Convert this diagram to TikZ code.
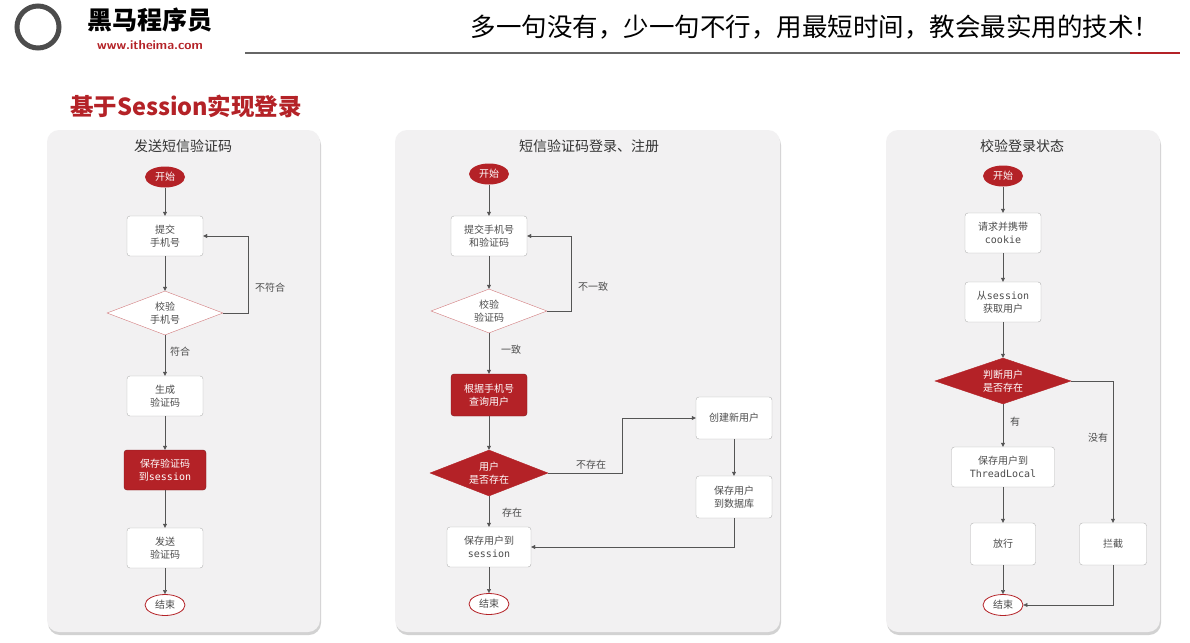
\documentclass[tikz,border=0pt]{standalone}
\usepackage{fontspec}
\setmainfont{Noto Sans CJK SC}
\setmonofont{DejaVu Sans Mono}
\usetikzlibrary{shapes.geometric,arrows.meta,shadows}
\definecolor{rd}{HTML}{B42227}
\definecolor{pn}{HTML}{F2F1F2}
\definecolor{ln}{HTML}{555555}
\tikzset{
 panel/.style={draw=none,fill=pn,rounded corners=12pt,drop shadow={shadow xshift=1pt,shadow yshift=-3pt,opacity=.35}},
 ptitle/.style={font=\fontsize{14}{16}\selectfont,text=black!80},
 wbox/.style={draw=black!30,fill=white,rounded corners=3pt,minimum height=40pt,align=center,font=\fontsize{10}{13}\selectfont,text=black!70,inner sep=2pt},
 rbox/.style={wbox,draw=rd!70!black,fill=rd,text=white},
 term/.style={ellipse,minimum width=40pt,minimum height=21pt,inner sep=0pt,font=\fontsize{10}{11}\selectfont},
 starts/.style={term,fill=rd,text=white},
 ends/.style={term,draw=rd,thick,fill=white,text=black!70},
 wdia/.style={diamond,aspect=2.6,draw=rd!60,fill=white,align=center,font=\fontsize{10}{13}\selectfont,text=black!70,inner sep=0pt},
 rdia/.style={wdia,draw=rd,fill=rd,text=white},
 arr/.style={draw=ln,-{Triangle[length=4pt,width=4pt]}},
 lab/.style={font=\fontsize{10}{11}\selectfont,text=black!70}
}
\begin{document}
\begin{tikzpicture}[x=1pt,y=-1pt]
\useasboundingbox (0,0) rectangle (1190,642);
\fill[white] (0,0) rectangle (1190,642);
% header
\draw[line width=5pt,black!70] (38,27) circle (21);
\node (logo) at (150,20) {\fontsize{25}{26}\selectfont\bfseries 黑马程序员};
\node[text=rd] (url) at (150,45) {\fontsize{13}{14}\selectfont\sffamily\bfseries www.itheima.com};
\node (slogan) at (815,27) {\fontsize{25.5}{28}\selectfont 多一句没有，少一句不行，用最短时间，教会最实用的技术！};
\draw[black!60,line width=1.2pt] (245,53) -- (1180,53);
\draw[rd,line width=1.2pt] (1130,53) -- (1180,53);
\node[text=rd] (title) at (186,106) {\fontsize{23.5}{26}\selectfont\bfseries 基于Session实现登录};
% panels
\path[panel] (47,130) rectangle (320,632);
\path[panel] (395,130) rectangle (780,632);
\path[panel] (886,130) rectangle (1160,632);
\node[ptitle] (t1) at (183,146) {发送短信验证码};
\node[ptitle] (t2) at (589,146) {短信验证码登录、注册};
\node[ptitle] (t3) at (1022,146) {校验登录状态};
% panel 1
\node[starts] (s1) at (165,177) {开始};
\node[wbox,minimum width=76pt] (a1) at (165,236) {提交\\手机号};
\node[wdia,minimum width=116pt,minimum height=44pt] (d1) at (165,313) {校验\\手机号};
\node[wbox,minimum width=76pt] (a2) at (165,396) {生成\\验证码};
\node[rbox,minimum width=82pt] (a3) at (165,470) {保存验证码\\到{\ttfamily session}};
\node[wbox,minimum width=76pt] (a4) at (165,548) {发送\\验证码};
\node[ends] (e1) at (165,605) {结束};
\draw[arr] (s1) -- (a1);
\draw[arr] (a1) -- (d1);
\draw[arr] (d1.east) -- (248,313) -- (248,236) -- (a1.east);
\node[lab] (l1) at (270,288) {不符合};
\draw[arr] (d1) -- (a2);
\node[lab] (l2) at (180,352) {符合};
\draw[arr] (a2) -- (a3);
\draw[arr] (a3) -- (a4);
\draw[arr] (a4) -- (e1);
% panel 2
\node[starts] (s2) at (489,174) {开始};
\node[wbox,minimum width=76pt] (b1) at (489,236) {提交手机号\\和验证码};
\node[wdia,minimum width=116pt,minimum height=44pt] (d2) at (489,311) {校验\\验证码};
\node[rbox,minimum width=76pt,minimum height=42pt] (b2) at (489,395) {根据手机号\\查询用户};
\node[rdia,minimum width=118pt,minimum height=46pt] (d3) at (489,473) {用户\\是否存在};
\node[wbox,minimum width=76pt,minimum height=42pt] (b3) at (734,418) {创建新用户};
\node[wbox,minimum width=76pt,minimum height=42pt] (b4) at (734,497) {保存用户\\到数据库};
\node[wbox,minimum width=84pt] (b5) at (489,547) {保存用户到\\{\ttfamily session}};
\node[ends] (e2) at (489,604) {结束};
\draw[arr] (s2) -- (b1);
\draw[arr] (b1) -- (d2);
\draw[arr] (d2.east) -- (571,311) -- (571,236) -- (b1.east);
\node[lab] (l3) at (593,287) {不一致};
\draw[arr] (d2) -- (b2);
\node[lab] (l4) at (511,350) {一致};
\draw[arr] (b2) -- (d3);
\draw[arr] (d3.east) -- (622,473) -- (622,418) -- (b3.west);
\node[lab] (l5) at (591,465) {不存在};
\draw[arr] (b3) -- (b4);
\draw[arr] (b4.south) -- (734,547) -- (b5.east);
\draw[arr] (d3) -- (b5);
\node[lab] (l6) at (512,513) {存在};
\draw[arr] (b5) -- (e2);
% panel 3
\node[starts] (s3) at (1003,176) {开始};
\node[wbox,minimum width=76pt] (c1) at (1003,233) {请求并携带\\{\ttfamily cookie}};
\node[wbox,minimum width=76pt] (c2) at (1003,302) {从{\ttfamily session}\\获取用户};
\node[rdia,minimum width=136pt,minimum height=46pt] (d4) at (1003,381) {判断用户\\是否存在};
\node[wbox,minimum width=103pt] (c3) at (1003,467) {保存用户到\\{\ttfamily ThreadLocal}};
\node[wbox,minimum width=65pt,minimum height=42pt] (c4) at (1003,544) {放行};
\node[wbox,minimum width=67pt,minimum height=42pt] (c5) at (1113,544) {拦截};
\node[ends] (e3) at (1003,605) {结束};
\draw[arr] (s3) -- (c1);
\draw[arr] (c1) -- (c2);
\draw[arr] (c2) -- (d4);
\draw[arr] (d4) -- (c3);
\node[lab] (l7) at (1015,422) {有};
\draw[arr] (d4.east) -- (1113,381) -- (c5.north);
\node[lab] (l8) at (1098,438) {没有};
\draw[arr] (c3) -- (c4);
\draw[arr] (c4) -- (e3);
\draw[arr] (c5.south) -- (1113,605) -- (e3.east);
\end{tikzpicture}
\end{document}
